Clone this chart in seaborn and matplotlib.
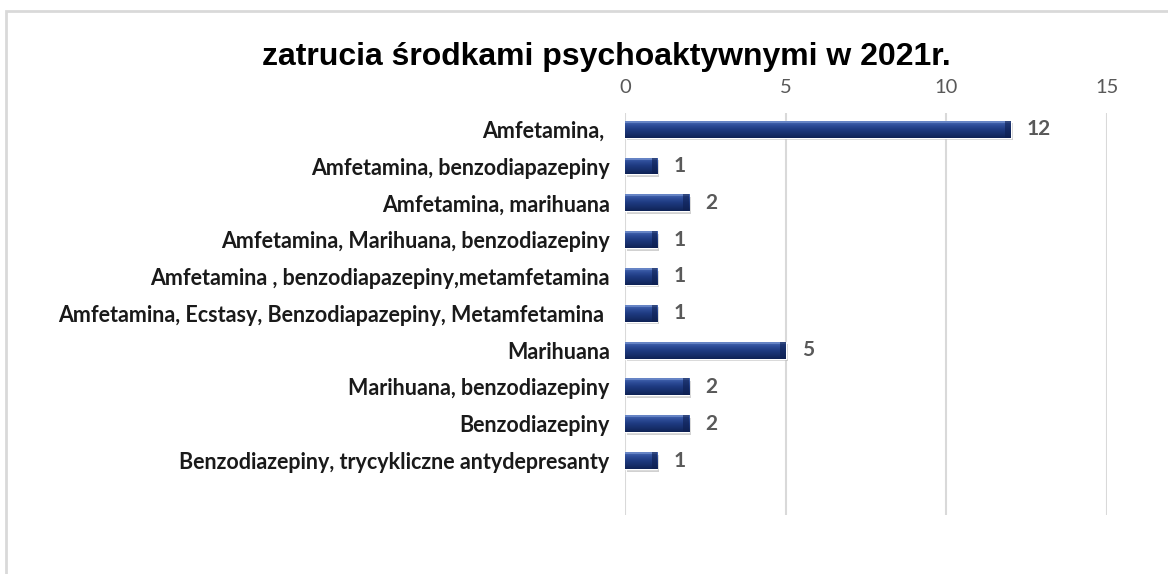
import numpy as np
import pandas as pd
import matplotlib
matplotlib.use("Agg")
import matplotlib.pyplot as plt
from matplotlib.patches import Rectangle
from matplotlib.colors import LinearSegmentedColormap
import seaborn as sns

categories = [
    "Amfetamina, ",
    "Amfetamina, benzodiapazepiny",
    "Amfetamina, marihuana",
    "Amfetamina, Marihuana, benzodiazepiny",
    "Amfetamina , benzodiapazepiny,metamfetamina",
    "Amfetamina, Ecstasy, Benzodiapazepiny, Metamfetamina ",
    "Marihuana",
    "Marihuana, benzodiazepiny",
    "Benzodiazepiny",
    "Benzodiazepiny, trycykliczne antydepresanty",
]
counts = [12, 1, 2, 1, 1, 1, 5, 2, 2, 1]
x_ticks = [0, 5, 10, 15]
title = "zatrucia środkami psychoaktywnymi w 2021r."

df = pd.DataFrame({"kategoria": categories, "liczba": counts})

sns.set_theme(style="white")
plt.rcParams["font.family"] = ["Lato", "DejaVu Sans"]

W, H = 1168, 574
fig = plt.figure(figsize=(W / 100, H / 100), dpi=100)
ax = fig.add_axes([625 / W, 1 - 515 / H, 482 / W, 402 / H])

bar_color = "#1F3A7D"
sns.barplot(data=df, x="liczba", y="kategoria", orient="h", color=bar_color,
            width=0.46, saturation=1, ax=ax, zorder=3)

# bevelled look: vertical gradient clipped to each bar, plus a soft shadow
grad = LinearSegmentedColormap.from_list(
    "bevel", ["#4A6BB5", "#2E4D99", "#1E3A80", "#172F6C", "#0F2255"])
g = np.linspace(0, 1, 64).reshape(-1, 1)
for p in list(ax.patches):
    x0, y0 = p.get_x(), p.get_y()
    w, h = p.get_width(), p.get_height()
    sh = Rectangle((x0 + 0.06, y0 + 0.07), w, h, facecolor="#9A9A9A",
                   alpha=0.45, edgecolor="none", zorder=2)
    ax.add_patch(sh)
    im = ax.imshow(g, cmap=grad, aspect="auto", extent=(x0, x0 + w, y0 + h, y0),
                   zorder=3.5, interpolation="bicubic")
    im.set_clip_path(p)
    # light top edge and darker end cap
    ax.add_patch(Rectangle((x0, y0), w, h * 0.12, facecolor="#6F8CCB",
                           edgecolor="none", zorder=3.6, alpha=0.8))
    cap = min(0.18, w * 0.15)
    ax.add_patch(Rectangle((x0 + w - cap, y0), cap, h,
                           facecolor="#0E1F50", edgecolor="none", zorder=3.7, alpha=0.6))

for i, v in enumerate(counts):
    ax.text(v + 0.5, i, str(v), va="center", ha="left", fontsize=15,
            fontweight="bold", color="#595959", zorder=5)

ax.set_xlim(0, 15)
ax.set_ylim(10.48, -0.44)
ax.set_xticks(x_ticks)
ax.xaxis.tick_top()
ax.tick_params(axis="x", length=0, pad=12, labelsize=14.5, labelcolor="#595959")
ax.tick_params(axis="y", length=0, pad=11, labelsize=15.5, labelcolor="#1A1A1A")
for lab in ax.get_yticklabels():
    lab.set_fontweight("bold")
ax.grid(axis="x", color="#D9D9D9", linewidth=1.5, zorder=0)
ax.grid(axis="y", visible=False)
ax.set_xlabel("")
ax.set_ylabel("")
for s in ax.spines.values():
    s.set_visible(False)

fig.text(606 / W, 1 - 57 / H, title, ha="center", va="center", fontsize=23,
         fontweight="bold", family=["Liberation Sans", "DejaVu Sans"], color="black")

fig.patches.append(Rectangle((6 / W, -0.1), 1.2, 1 - 11 / H + 0.1,
                             transform=fig.transFigure, facecolor="none",
                             edgecolor="#D9D9D9", linewidth=2, figure=fig))

fig.savefig("out.png", dpi=100, facecolor="white")
